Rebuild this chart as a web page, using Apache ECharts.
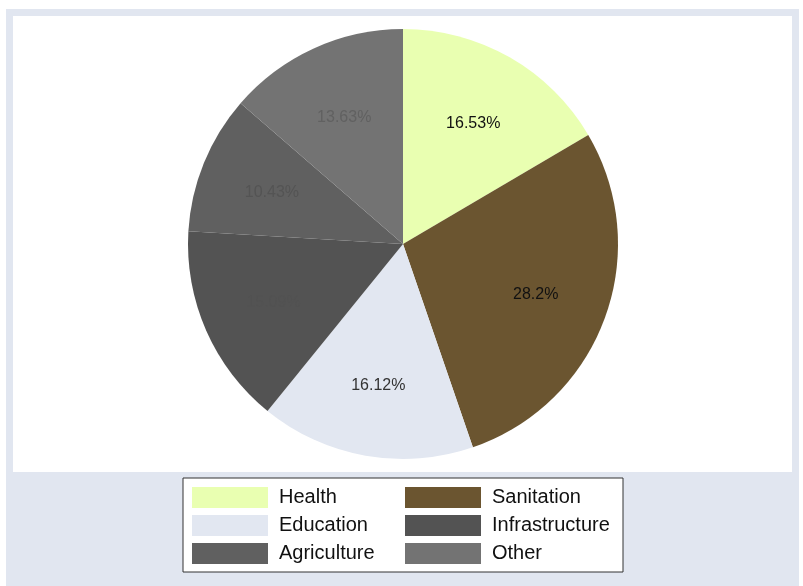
<!DOCTYPE html>
<html>
<head>
<meta charset="utf-8">
<script src="https://cdn.jsdelivr.net/npm/echarts@6/dist/echarts.min.js"></script>
<style>
  html, body { margin: 0; padding: 0; background: #ffffff; }
  #chart { width: 803px; height: 586px; }
</style>
</head>
<body>
<div id="chart"></div>
<script>
// Spending shares by sector (percent of total)
const categories = ['Health', 'Sanitation', 'Education', 'Infrastructure', 'Agriculture', 'Other'];
const shares = [16.53, 28.2, 16.12, 15.09, 10.43, 13.63];

// Slice fills and label inks, one per sector
const sliceColors = ['#e9ffb1', '#6b5530', '#e2e7f1', '#535353', '#606060', '#737373'];
const labelColors = ['#111111', '#111111', '#333333', '#525252', '#545454', '#616161'];

const chart = echarts.init(document.getElementById('chart'), null, { renderer: 'canvas' });

const sliceData = categories.map((name, i) => ({
  name: name,
  value: shares[i],
  itemStyle: { color: sliceColors[i] }
}));

// Ring used only to place the percentage labels at about two thirds of the radius
const labelData = categories.map((name, i) => ({
  name: name,
  value: shares[i],
  itemStyle: { color: 'rgba(0,0,0,0)' },
  label: { color: labelColors[i] }
}));

chart.setOption({
  animation: false,
  backgroundColor: '#ffffff',
  color: sliceColors,
  graphic: [
    {
      type: 'rect', z: -10, silent: true,
      shape: { x: 6, y: 9, width: 793, height: 577 },
      style: { fill: '#e1e6f0' }
    },
    {
      type: 'rect', z: -9, silent: true,
      shape: { x: 13, y: 16, width: 779, height: 456 },
      style: { fill: '#ffffff' }
    }
  ],
  legend: {
    data: categories,
    left: 183,
    top: 478,
    width: 420,
    orient: 'horizontal',
    icon: 'rect',
    itemWidth: 76,
    itemHeight: 21,
    itemGap: 7,
    selectedMode: false,
    backgroundColor: '#ffffff',
    borderColor: '#333333',
    borderWidth: 1,
    borderRadius: 0,
    padding: [9, 12, 8, 9],
    itemStyle: { borderWidth: 0 },
    textStyle: {
      fontFamily: 'Liberation Sans, Arial, sans-serif',
      fontSize: 20,
      color: '#111111',
      width: 119,
      lineHeight: 21,
      padding: [0, 0, 0, 6]
    }
  },
  series: [
    {
      type: 'pie',
      name: 'share',
      center: [403, 244],
      radius: [0, 215],
      startAngle: 90,
      clockwise: true,
      silent: true,
      label: { show: false },
      labelLine: { show: false },
      itemStyle: { borderWidth: 0 },
      emphasis: { disabled: true },
      data: sliceData
    },
    {
      type: 'pie',
      name: 'labels',
      center: [403, 246],
      radius: [62, 215],
      startAngle: 90,
      clockwise: true,
      silent: true,
      legendHoverLink: false,
      itemStyle: { borderWidth: 0 },
      emphasis: { disabled: true },
      label: {
        show: true,
        position: 'inside',
        fontFamily: 'Liberation Sans, Arial, sans-serif',
        fontSize: 16,
        formatter: p => p.value + '%'
      },
      labelLine: { show: false },
      data: labelData
    }
  ]
});
</script>
</body>
</html>
